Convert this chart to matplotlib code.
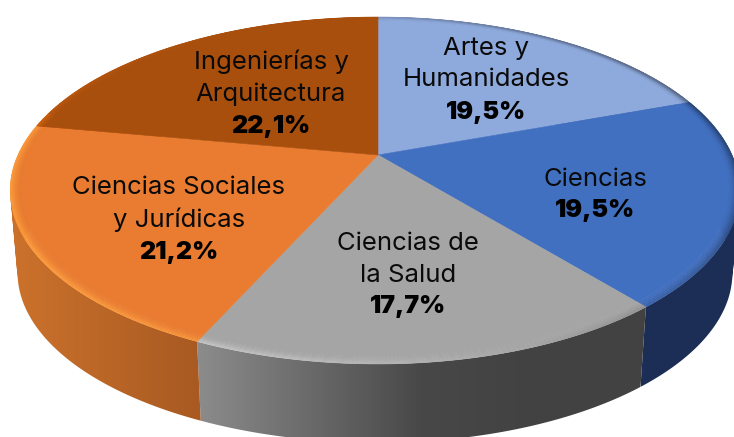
import numpy as np
import matplotlib
matplotlib.use("Agg")
import matplotlib.pyplot as plt
from matplotlib.collections import PolyCollection
from matplotlib.colors import to_rgb, LinearSegmentedColormap
from matplotlib.patches import Polygon, PathPatch
from matplotlib.path import Path

# ---- data
categories = [["Artes y", "Humanidades"], ["Ciencias"], ["Ciencias de", "la Salud"],
              ["Ciencias Sociales", "y Jurídicas"], ["Ingenierías y", "Arquitectura"]]
shares = [19.5, 19.5, 17.7, 21.2, 22.1]
pct_labels = ["19,5%", "19,5%", "17,7%", "21,2%", "22,1%"]

# ---- style
top_colors = ["#8EA9DB", "#4270C0", "#A5A5A5", "#E97C30", "#A94F0D"]
# side wall colours, left to right
side_stops = [["#1C2E55", "#1C2E55"], ["#1C2E55", "#1C2E55"],
              ["#8C8C8C", "#6A6A6A", "#484848", "#424242", "#424242"],
              ["#CC722C", "#A85A22"], ["#CC722C", "#CC722C"]]
label_xy = [(486, 48), (595, 179), (408, 243), (179, 188), (271, 62)]
LINE = 32
FONT = "Inter"
W, H = 734, 437

CX, CY, A_LEFT, A_RIGHT, B, K = 378, 155, 360, 354, 166.2, 0.2046
DEPTH_S, DEPTH_Y = 0.98, 86


def project(theta, r=1.0):
    u, v = r * np.sin(theta), r * np.cos(theta)
    d = 1 + K * v
    return CX + np.where(u < 0, A_LEFT, A_RIGHT) * u / d, CY - B * v / d


def lower(x, y):
    return CX + (x - CX) * DEPTH_S, y * DEPTH_S + DEPTH_Y


def mix(c, target, t):
    c = np.array(to_rgb(c))
    return tuple(c + (np.array(target) - c) * t)


def light(theta):
    deg = np.degrees(theta) % 360
    h = np.cos(np.radians(deg - 250))
    if deg > 285:
        h *= max(0.0, (340 - deg) / 55) * 0.5
    return h


def rim_color(base, h):
    if h > 0:
        bright = np.clip(np.array(to_rgb(base)) * 1.3, 0, 1)
        return mix(base, bright, h)
    return mix(base, (0, 0, 0), -0.45 * h)


def wall_path(x, y, xb, yb):
    """Union of the wall's quads, all wound the same way so nothing cancels."""
    verts, codes = [], []
    for j in range(len(x) - 1):
        q = [(x[j], y[j]), (x[j + 1], y[j + 1]), (xb[j + 1], yb[j + 1]), (xb[j], yb[j])]
        area = sum(q[k][0] * q[(k + 1) % 4][1] - q[(k + 1) % 4][0] * q[k][1] for k in range(4))
        if area < 0:
            q = q[::-1]
        verts += q + [q[0]]
        codes += [Path.MOVETO, Path.LINETO, Path.LINETO, Path.LINETO, Path.CLOSEPOLY]
    return Path(verts, codes)


fig = plt.figure(figsize=(W / 100, H / 100), dpi=100)
ax = fig.add_axes([0, 0, 1, 1])
ax.axis("off")

edges = np.radians(np.concatenate([[0], np.cumsum(shares) * 3.6]))

# side wall: a horizontal gradient clipped to each slice's wall
for i, (a0, a1) in enumerate(zip(edges[:-1], edges[1:])):
    th = np.linspace(a0, a1, 160)
    x, y = project(th)
    xb, yb = lower(x, y)
    path = wall_path(x, y, xb, yb)
    cmap = LinearSegmentedColormap.from_list(f"side{i}", side_stops[i])
    x0, x1 = min(x.min(), xb.min()), max(x.max(), xb.max())
    y0, y1 = min(y.min(), yb.min()), max(y.max(), yb.max())
    patch = PathPatch(path, facecolor="none", edgecolor="none", transform=ax.transData)
    ax.add_patch(patch)
    img = ax.imshow(np.linspace(0, 1, 256)[None, :], cmap=cmap, aspect="auto",
                    extent=(x0, x1, y1, y0), zorder=1, interpolation="bilinear")
    img.set_clip_path(patch)

ax.set_xlim(0, W)
ax.set_ylim(H, 0)

# top face with bevelled rim
bands = np.linspace(0.972, 1.0, 8)
for i, (a0, a1) in enumerate(zip(edges[:-1], edges[1:])):
    th = np.linspace(a0, a1, 120)
    x, y = project(th, bands[0])
    ax.add_patch(Polygon(np.column_stack([np.r_[CX, x], np.r_[CY, y]]), closed=True,
                         facecolor=top_colors[i], edgecolor=top_colors[i], lw=0.4, zorder=2))
    quads, cols = [], []
    for b0, b1 in zip(bands[:-1], bands[1:]):
        xi, yi = project(th, b0)
        xo, yo = project(th, b1)
        ramp = ((b0 - bands[0]) / (1 - bands[0])) ** 1.5
        for j in range(len(th) - 1):
            quads.append([(xi[j], yi[j]), (xi[j + 1], yi[j + 1]), (xo[j + 1], yo[j + 1]), (xo[j], yo[j])])
            cols.append(rim_color(top_colors[i], light(th[j]) * ramp))
    ax.add_collection(PolyCollection(quads, facecolors=cols, edgecolors=cols, linewidths=0.4, zorder=3))

# labels
for lines, pct, (lx, ly) in zip(categories, pct_labels, label_xy):
    for k, s in enumerate(lines):
        ax.text(lx, ly + k * LINE, s, ha="center", va="center", fontsize=18.5, color="#0a0a0a",
                family=FONT, fontweight="regular", zorder=5)
    ax.text(lx, ly + len(lines) * LINE, pct, ha="center", va="center", fontsize=18, color="black",
            family=FONT, fontweight="black", zorder=5)

fig.savefig("out.png", dpi=100)
